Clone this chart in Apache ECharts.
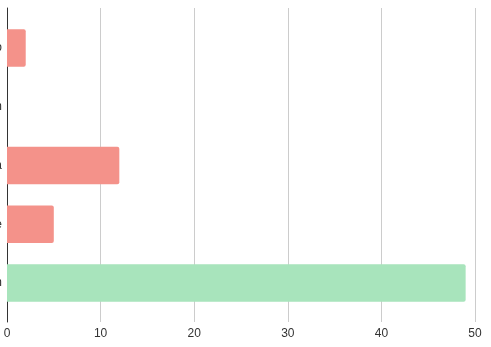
<!DOCTYPE html>
<html>
<head>
<meta charset="utf-8">
<script src="https://cdn.jsdelivr.net/npm/echarts@6/dist/echarts.min.js"></script>
<style>html,body{margin:0;padding:0;background:#fff;}#c{width:491px;height:347px;}</style>
</head>
<body>
<div id="c"></div>
<script>
const categories = ["Video", "Fashion", "Media", "Science", "Design"];
const values = [2, 0, 12, 5, 49];
const barColors = ["#f4928a", "#f4928a", "#f4928a", "#f4928a", "#a8e4bc"];
const xTicks = [0, 10, 20, 30, 40, 50];

const chart = echarts.init(document.getElementById('c'), null, {renderer: 'canvas'});
const font = 'Liberation Sans, Arial, sans-serif';
chart.setOption({
  animation: false,
  grid: [
    {left: 7, right: 16, top: 8, bottom: 25, containLabel: false, outerBoundsMode: 'none'},
    {left: 7, right: 16, top: 18.6, bottom: 34.6, containLabel: false, outerBoundsMode: 'none'}
  ],
  xAxis: [
    {gridIndex: 0, type: 'value', min: xTicks[0], max: xTicks[xTicks.length-1], interval: 10,
     axisLine: {show: false}, axisTick: {show: false},
     axisLabel: {color: '#333', fontSize: 12, fontFamily: font, margin: 6},
     splitLine: {show: true, lineStyle: {color: '#cccccc', width: 1}}},
    {gridIndex: 1, type: 'value', min: xTicks[0], max: xTicks[xTicks.length-1], interval: 10,
     show: false, splitLine: {show: false}}
  ],
  yAxis: [
    {gridIndex: 0, type: 'category', data: categories, inverse: true,
     axisLine: {show: true, lineStyle: {color: '#333', width: 1}},
     axisTick: {show: false}, axisLabel: {show: false}, splitLine: {show: false}},
    {gridIndex: 1, type: 'category', data: categories, inverse: true,
     axisLine: {show: false}, axisTick: {show: false},
     axisLabel: {color: '#333', fontSize: 12, fontFamily: font, margin: 5},
     splitLine: {show: false}}
  ],
  series: [{
    type: 'bar', xAxisIndex: 1, yAxisIndex: 1,
    data: values.map((v, i) => ({value: v, itemStyle: {color: barColors[i]}})),
    barCategoryGap: '36%',
    itemStyle: {borderRadius: [0, 2, 2, 0]}
  }]
});
</script>
</body>
</html>
